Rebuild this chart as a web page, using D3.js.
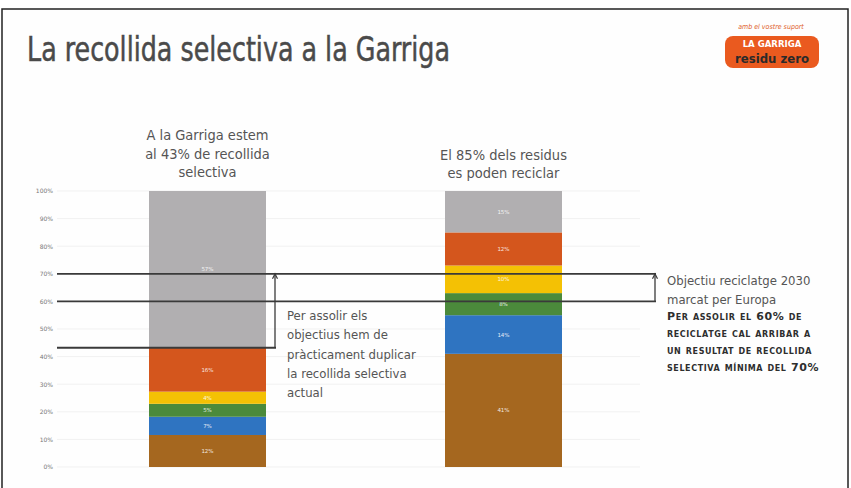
<!DOCTYPE html>
<html>
<head>
<meta charset="utf-8">
<script src="https://cdn.jsdelivr.net/npm/d3@7"></script>
<style>
  body { margin: 0; background: #fff; }
  svg text { font-family: "Liberation Sans Narrow", "DejaVu Sans Condensed", Roboto, sans-serif; }
</style>
</head>
<body>
<div id="chart"></div>
<script>
// data
const bars = ["actual", "potencial"]
const segmentNames = ["brown", "blue", "green", "yellow", "orange", "grey"]
const actualValues = [11.6, 6.6, 4.7, 4.4, 15.9, 56.8]
const actualLabels = ["12%", "7%", "5%", "4%", "16%", "57%"]
const potentialValues = [41, 14, 8, 10, 12, 15]
const potentialLabels = ["41%", "14%", "8%", "10%", "12%", "15%"]
const segmentColors = ["#a5671f", "#2f74c1", "#4b8a3b", "#f4c104", "#d4561d", "#b1afb1"]
const yTicks = [0, 10, 20, 30, 40, 50, 60, 70, 80, 90, 100]
const targetLines = [70, 60]
const currentRate = 43.2

const width = 851
const height = 488

const svg = d3.select("#chart")
  .append("svg")
  .attr("width", width)
  .attr("height", height)

// slide frame
svg.append("rect")
  .attr("x", 2).attr("y", 9)
  .attr("width", 846).attr("height", 500)
  .attr("fill", "#fefefe")
  .attr("stroke", "#222")
  .attr("stroke-width", 1.5)

svg.append("text")
  .attr("x", 27).attr("y", 61)
  .attr("font-size", 34)
  .attr("fill", "#4a4a4a")
  .attr("stroke", "#4a4a4a")
  .attr("stroke-width", 0.5)
  .attr("textLength", 423)
  .attr("lengthAdjust", "spacingAndGlyphs")
  .text("La recollida selectiva a la Garriga")

// logo
const logo = svg.append("g")
logo.append("text")
  .attr("x", 771).attr("y", 29)
  .attr("text-anchor", "middle")
  .attr("font-size", 7)
  .attr("font-style", "italic")
  .attr("fill", "#e0602a")
  .text("amb el vostre suport")
logo.append("rect")
  .attr("x", 725).attr("y", 36)
  .attr("width", 94).attr("height", 32)
  .attr("rx", 8)
  .attr("fill", "#ea5a1f")
logo.append("text")
  .attr("x", 772).attr("y", 47)
  .attr("text-anchor", "middle")
  .attr("font-size", 9.5)
  .attr("font-weight", "bold")
  .attr("fill", "#fff")
  .text("LA GARRIGA")
logo.append("text")
  .attr("x", 772).attr("y", 63)
  .attr("text-anchor", "middle")
  .attr("font-size", 13)
  .attr("font-weight", "bold")
  .attr("fill", "#2a2a2a")
  .text("residu zero")

// scales
const yScale = d3.scaleLinear()
  .domain([0, 100])
  .range([467, 191])

const xScale = d3.scalePoint()
  .domain(bars)
  .range([207.5, 503.5])
const barWidth = 117

// faint grid
yTicks.forEach(t => {
  svg.append("line")
    .attr("x1", 57).attr("x2", 640)
    .attr("y1", yScale(t)).attr("y2", yScale(t))
    .attr("stroke", "#f1f1f1")
})

// y axis
const yAxisGenerator = d3.axisLeft()
  .scale(yScale)
  .tickValues(yTicks)
  .tickSize(0)
  .tickPadding(0)
  .tickFormat(d => d + "%")
const yAxis = svg.append("g")
  .attr("transform", "translate(53,0)")
  .call(yAxisGenerator)
yAxis.select(".domain").remove()
yAxis.selectAll("text")
  .attr("font-size", 6)
  .attr("fill", "#777")
  .style("font-family", "'DejaVu Sans', sans-serif")

// stacked bars
function drawBar(key, values, labels) {
  const stack = d3.cumsum(values)
  values.forEach((v, i) => {
    const y0 = i === 0 ? 0 : stack[i - 1]
    const y1 = stack[i]
    const cx = xScale(key)
    svg.append("rect")
      .attr("x", cx - barWidth / 2)
      .attr("y", yScale(y1))
      .attr("width", barWidth)
      .attr("height", yScale(y0) - yScale(y1))
      .attr("fill", segmentColors[i])
    svg.append("text")
      .attr("x", cx)
      .attr("y", (yScale(y0) + yScale(y1)) / 2 + 2)
      .attr("text-anchor", "middle")
      .attr("font-size", 5.5)
      .attr("fill", "#fff")
      .attr("opacity", 0.85)
      .style("font-family", "'DejaVu Sans', sans-serif")
      .text(labels[i])
  })
}
drawBar("actual", actualValues, actualLabels)
drawBar("potencial", potentialValues, potentialLabels)

// reference lines
const lineColor = "#3a3a3a"
targetLines.forEach(t => {
  svg.append("line")
    .attr("x1", 57).attr("x2", 656)
    .attr("y1", yScale(t)).attr("y2", yScale(t))
    .attr("stroke", lineColor)
    .attr("stroke-width", 1.8)
})
svg.append("line")
  .attr("x1", 57).attr("x2", 276)
  .attr("y1", yScale(currentRate)).attr("y2", yScale(currentRate))
  .attr("stroke", lineColor)
  .attr("stroke-width", 1.8)

// arrows
function vArrow(x, yBottom, yTop) {
  svg.append("line")
    .attr("x1", x).attr("x2", x)
    .attr("y1", yBottom).attr("y2", yTop)
    .attr("stroke", lineColor)
    .attr("stroke-width", 1.3)
  svg.append("path")
    .attr("d", `M${x - 2.5},${yTop + 5} L${x},${yTop} L${x + 2.5},${yTop + 5}`)
    .attr("fill", "none")
    .attr("stroke", lineColor)
    .attr("stroke-width", 1.2)
}
vArrow(275, yScale(currentRate), yScale(targetLines[0]))
vArrow(655, yScale(targetLines[1]), yScale(targetLines[0]))

// text blocks
function textBlock(x, y, lines, step, opts) {
  const t = svg.append("text")
    .attr("x", x).attr("y", y)
    .attr("text-anchor", opts.anchor || "start")
    .attr("font-size", opts.size)
    .attr("fill", opts.color || "#555")
    .attr("font-weight", opts.weight || "normal")
  lines.forEach((l, i) => {
    t.append("tspan")
      .attr("x", x)
      .attr("dy", i === 0 ? 0 : step)
      .text(l)
  })
  return t
}

textBlock(207.5, 140, ["A la Garriga estem", "al 43% de recollida", "selectiva"], 18.5,
  { anchor: "middle", size: 14.5 })
textBlock(503.5, 160, ["El 85% dels residus", "es poden reciclar"], 17.5,
  { anchor: "middle", size: 14.5 })
textBlock(287, 320, ["Per assolir els", "objectius hem de", "pràcticament duplicar",
  "la recollida selectiva", "actual"], 19.3, { size: 13 })
textBlock(667, 285, ["Objectiu reciclatge 2030", "marcat per Europa"], 19,
  { size: 13 })
const smallCaps = textBlock(667, 320, ["Per assolir el 60% de", "reciclatge cal arribar a",
  "un resultat de recollida", "selectiva mínima del 70%"], 17,
  { size: 11, weight: "bold", color: "#2e2e2e" })
smallCaps.style("font-variant", "small-caps")
  .style("font-family", "'DejaVu Sans', sans-serif")
  .attr("letter-spacing", 0.6)
</script>
</body>
</html>
